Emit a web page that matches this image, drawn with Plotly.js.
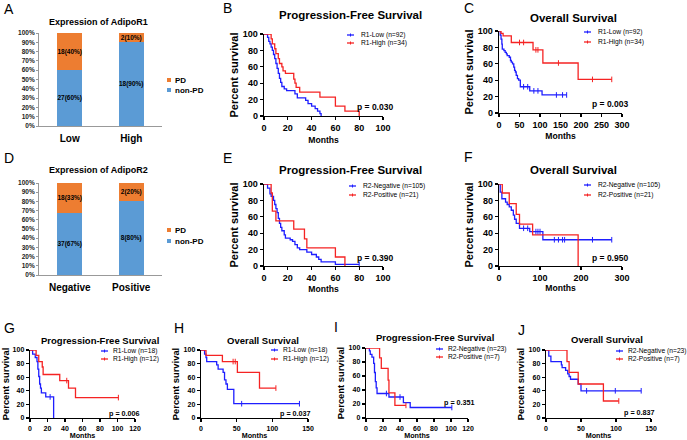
<!DOCTYPE html>
<html><head><meta charset="utf-8">
<script src="https://cdn.plot.ly/plotly-3.0.1.min.js"></script>
<style>html,body{margin:0;padding:0;background:#fff}#chart{width:687px;height:440px}</style>
</head><body><div id="chart"></div>
<script>
// ---------- DATA ----------
const r1Groups = ['Low', 'High'];
const r1NonPD = [60, 90];
const r1PD = [40, 10];
const r1NonPDLabels = ['27(60%)', '18(90%)'];
const r1PDLabels = ['18(40%)', '2(10%)'];

const r2Groups = ['Negative', 'Positive'];
const r2NonPD = [67, 80];
const r2PD = [33, 20];
const r2NonPDLabels = ['37(67%)', '8(80%)'];
const r2PDLabels = ['18(33%)', '2(20%)'];

const pctVals = [0, 10, 20, 30, 40, 50, 60, 70, 80, 90, 100];
const pctText = ['0%', '10%', '20%', '30%', '40%', '50%', '60%', '70%', '80%', '90%', '100%'];

// B: PFS by AdipoR1
const bLowT = [0,3,4,5,6,7,8,9,10,11,12,13,14,15,17,19,26,28,35,37,40,43,45,47,48];
const bLowS = [100,96,91,88,84,80,75,70,64,58,52,46,41,36,33,31,27,22,19,15,12,9,6,3,0];
const bHighT = [0,6,7,9,10,12,13,15,16,18,25,26,27,30,47,60,68,80];
const bHighS = [100,94,88,82,76,70,64,60,55,52,45,40,35,29,23,12,6,0];
// C: OS by AdipoR1
const cLowT = [0,3,5,7,8,12,15,18,20,25,28,30,33,36,38,40,42,45,48,52,75,105,165];
const cLowS = [100,95,90,84,78,76,74,72,70,68,64,62,60,56,52,50,46,42,40,32,27,22,22];
const cLowCens = [60,70,85,95,140,155,165];
const cHighT = [0,5,10,30,83,107,193,275];
const cHighS = [100,97,94,86,77,61,41,41];
const cHighCens = [50,60,90,95,145,228,275];
// E: PFS by AdipoR2
const eNegT = [0,3,5,6,8,9,10,11,12,13,14,15,17,18,22,24,26,28,30,36,40,44,46,48,60,80];
const eNegS = [100,95,88,85,80,75,70,65,58,52,47,43,38,34,32,30,26,22,20,17,14,11,8,5,2,2];
const eNegCens = [80];
const ePosT = [0,6,7,10,25,34,36,60,68];
const ePosS = [100,89,67,55,45,33,22,11,0];
// F: OS by AdipoR2
const fNegT = [0,3,7,16,20,25,30,35,38,42,50,75,107,275];
const fNegS = [100,90,82,78,75,72,68,62,57,52,46,42,32,32];
const fNegCens = [60,70,90,95,100,135,145,155,160,228,275];
const fPosT = [0,8,25,42,50,82,193];
const fPosS = [100,89,76,63,51,38,0];
// G: PFS by AdipoR1 (validation)
const gLowT = [0,3,6,8,9,10,11,12,13,18,27];
const gLowS = [100,94,89,83,72,61,50,44,37,31,0];
const gLowCens = [23];
const gHighT = [0,7,10,14,15,34,44,52,101];
const gHighS = [100,92,83,75,64,55,44,30,30];
const gHighCens = [42,101];
// H: OS by AdipoR1 (validation)
const hLowT = [0,5,7,8,22,24,31,33,35,37,46,138];
const hLowS = [100,94,89,83,78,72,67,56,50,42,21,21];
const hLowCens = [57,138];
const hHighT = [0,7,30,51,82,105];
const hHighS = [100,92,83,67,44,44];
const hHighCens = [45,48,105];
// I: PFS by AdipoR2 (validation)
const iNegT = [0,4,5,7,9,10,11,12,13,27,44,52,101];
const iNegS = [100,96,91,87,78,65,52,43,35,30,22,15,15];
const iNegCens = [24,40,101];
const iPosT = [0,16,18,26,27,34,47];
const iPosS = [100,86,71,54,36,18,18];
const iPosCens = [47];
// J: OS by AdipoR2 (validation)
const jNegT = [0,4,7,22,23,28,31,33,35,46,50,136];
const jNegS = [100,91,83,78,74,70,65,61,57,50,40,40];
const jNegCens = [58,99,136];
const jPosT = [0,30,33,46,82,104];
const jPosS = [100,83,67,50,25,25];
const jPosCens = [104];

// ---------- HELPERS ----------
const W = 687, H = 440;
const FONT = 'Liberation Sans, Arial, sans-serif';
const BLUE = 'rgb(30,30,255)', RED = 'rgb(245,35,35)';
const BARBLUE = '#5B9BD5', BARORANGE = '#ED7D31';
const xd = (a, b) => [a / W, b / W];
const yd = (top, bottom) => [1 - bottom / H, 1 - top / H];
const PX = x => x / W, PY = y => 1 - y / H;

function survAt(T, S, t) { let v = S[0]; for (let i = 0; i < T.length; i++) { if (T[i] <= t) v = S[i]; } return v; }
function km(T, S, ax, color) {
  return {type: 'scatter', mode: 'lines', x: T, y: S, xaxis: 'x' + ax, yaxis: 'y' + ax,
    line: {shape: 'hv', color: color, width: 1.3}, cliponaxis: false, hoverinfo: 'skip'};
}
function cens(T, S, C, ax, color) {
  return {type: 'scatter', mode: 'markers', x: C, y: C.map(t => survAt(T, S, t)), xaxis: 'x' + ax, yaxis: 'y' + ax,
    marker: {symbol: 'line-ns-open', size: 4, color: color, line: {color: color, width: 1}}, cliponaxis: false, hoverinfo: 'skip'};
}
function kmAxis(domain, range, dtick, tsize, title, titleSize, standoff) {
  return {domain: domain, range: range, dtick: dtick, tick0: 0, showgrid: false, zeroline: false,
    showline: true, linecolor: '#000', linewidth: 1.3, ticks: 'outside', ticklen: 3, tickwidth: 1.3, tickcolor: '#000',
    tickfont: {family: FONT, size: tsize, color: '#000', weight: 'bold'}, fixedrange: true, automargin: false,
    title: {text: title, font: {family: FONT, size: titleSize, color: '#000', weight: 'bold'}, standoff: standoff}};
}
function barX(domain, anchor) {
  return {domain: domain, anchor: anchor, type: 'category', range: [-0.5, 1.5], showgrid: false, zeroline: false,
    showline: true, linecolor: '#999', linewidth: 1, ticks: '', automargin: false, ticklabelstandoff: 3,
    tickfont: {family: FONT, size: 10, color: '#000', weight: 'bold'}};
}
function barY(domain, anchor) {
  return {domain: domain, anchor: anchor, range: [0, 100], tickmode: 'array', tickvals: pctVals, ticktext: pctText,
    showgrid: false, zeroline: false, showline: true, linecolor: '#999', linewidth: 1, ticks: 'outside', ticklen: 2,
    tickcolor: '#999', automargin: false, tickfont: {family: FONT, size: 6.5, color: '#222', weight: 'bold'}};
}
function bar(x, y, txt, color, xa, ya) {
  return {type: 'bar', x: x, y: y, text: txt, textposition: 'inside', insidetextanchor: 'middle', constraintext: 'none',
    textfont: {family: FONT, size: 6.5, color: '#000', weight: 'bold'}, marker: {color: color}, width: 0.4,
    xaxis: xa, yaxis: ya, hoverinfo: 'skip', textangle: 0};
}

// ---------- TRACES ----------
const data = [
  bar(r1Groups, r1NonPD, r1NonPDLabels, BARBLUE, 'x', 'y'),
  bar(r1Groups, r1PD, r1PDLabels, BARORANGE, 'x', 'y'),
  bar(r2Groups, r2NonPD, r2NonPDLabels, BARBLUE, 'x4', 'y4'),
  bar(r2Groups, r2PD, r2PDLabels, BARORANGE, 'x4', 'y4'),
  km(bLowT, bLowS, 2, BLUE), km(bHighT, bHighS, 2, RED),
  km(cLowT, cLowS, 3, BLUE), km(cHighT, cHighS, 3, RED),
  cens(cLowT, cLowS, cLowCens, 3, BLUE), cens(cHighT, cHighS, cHighCens, 3, RED),
  km(eNegT, eNegS, 5, BLUE), km(ePosT, ePosS, 5, RED), cens(eNegT, eNegS, eNegCens, 5, BLUE),
  km(fNegT, fNegS, 6, BLUE), km(fPosT, fPosS, 6, RED), cens(fNegT, fNegS, fNegCens, 6, BLUE),
  km(gLowT, gLowS, 7, BLUE), km(gHighT, gHighS, 7, RED),
  cens(gLowT, gLowS, gLowCens, 7, BLUE), cens(gHighT, gHighS, gHighCens, 7, RED),
  km(hLowT, hLowS, 8, BLUE), km(hHighT, hHighS, 8, RED),
  cens(hLowT, hLowS, hLowCens, 8, BLUE), cens(hHighT, hHighS, hHighCens, 8, RED),
  km(iNegT, iNegS, 9, BLUE), km(iPosT, iPosS, 9, RED),
  cens(iNegT, iNegS, iNegCens, 9, BLUE), cens(iPosT, iPosS, iPosCens, 9, RED),
  km(jNegT, jNegS, 10, BLUE), km(jPosT, jPosS, 10, RED),
  cens(jNegT, jNegS, jNegCens, 10, BLUE), cens(jPosT, jPosS, jPosCens, 10, RED)
];

// ---------- ANNOTATIONS ----------
const ann = [];
function txt(x, y, s, size, opts) {
  ann.push(Object.assign({xref: 'paper', yref: 'paper', x: PX(x), y: PY(y), text: s, showarrow: false,
    xanchor: 'left', yanchor: 'middle', font: {family: FONT, size: size, color: '#000'}}, opts || {}));
}
const bold = (size) => ({family: FONT, size: size, color: '#000', weight: 'bold'});
// panel letters
[['A',2,9],['B',221,8],['C',462,8],['D',2,158],['E',221,158],['F',462,157],['G',2,328],['H',172,328],['I',332,327],['J',516,330]]
  .forEach(l => txt(l[1], l[2], l[0], 14));
// titles
txt(98, 22, 'Expression of AdipoR1', 9, {xanchor: 'center', font: bold(9)});
txt(98, 170, 'Expression of AdipoR2', 9, {xanchor: 'center', font: bold(9)});
txt(350, 15, 'Progression-Free Survival', 11.5, {xanchor: 'center', font: bold(11.5)});
txt(573, 18, 'Overall Survival', 11.5, {xanchor: 'center', font: bold(11.5)});
txt(350, 170, 'Progression-Free Survival', 11.5, {xanchor: 'center', font: bold(11.5)});
txt(573, 170, 'Overall Survival', 11.5, {xanchor: 'center', font: bold(11.5)});
txt(100, 340, 'Progression-Free Survival', 9.5, {xanchor: 'center', font: bold(9.5)});
txt(263, 340, 'Overall Survival', 9.5, {xanchor: 'center', font: bold(9.5)});
txt(435, 337, 'Progression-Free Survival', 9.5, {xanchor: 'center', font: bold(9.5)});
txt(607, 339, 'Overall Survival', 9.5, {xanchor: 'center', font: bold(9.5)});
// p values
[[355,107,'p = 0.030',8.5],[590,104,'p = 0.003',8.5],[355,258,'p = 0.390',8.5],[590,258,'p = 0.950',8.5],
 [107,413,'p = 0.006',7.2],[278,413,'p = 0.037',7.2],[442,402,'p = 0.351',7.2],[622,412,'p = 0.837',7.2]]
  .forEach(p => txt(p[0], p[1], p[2], p[3], {font: bold(p[3])}));

// legends
const shapes = [];
function kmLegend(xl, xt, y, label, color) {
  shapes.push({type: 'line', xref: 'paper', yref: 'paper', x0: PX(xl), x1: PX(xl + 7), y0: PY(y), y1: PY(y), line: {color: color, width: 1.3}});
  shapes.push({type: 'line', xref: 'paper', yref: 'paper', x0: PX(xl + 3.5), x1: PX(xl + 3.5), y0: PY(y - 1.5), y1: PY(y + 1.5), line: {color: color, width: 1}});
  txt(xt, y, label, 6.7);
}
kmLegend(347, 359, 35, 'R1-Low (n=92)', BLUE); kmLegend(347, 359, 43, 'R1-High (n=34)', RED);
kmLegend(584, 596, 32, 'R1-Low (n=92)', BLUE); kmLegend(584, 596, 42, 'R1-High (n=34)', RED);
kmLegend(349, 361, 186, 'R2-Negative (n=105)', BLUE); kmLegend(349, 361, 195, 'R2-Positive (n=21)', RED);
kmLegend(584, 596, 185, 'R2-Negative (n=105)', BLUE); kmLegend(584, 596, 195, 'R2-Positive (n=21)', RED);
kmLegend(101, 111, 351, 'R1-Low (n=18)', BLUE); kmLegend(101, 111, 359, 'R1-High (n=12)', RED);
kmLegend(271, 281, 350, 'R1-Low (n=18)', BLUE); kmLegend(271, 281, 359, 'R1-High (n=12)', RED);
kmLegend(436, 446, 349, 'R2-Negative (n=23)', BLUE); kmLegend(436, 446, 357, 'R2-Positive (n=7)', RED);
kmLegend(616, 626, 351, 'R2-Negative (n=23)', BLUE); kmLegend(616, 626, 359, 'R2-Positive (n=7)', RED);
function barLegend(x, y, label, color) {
  shapes.push({type: 'rect', xref: 'paper', yref: 'paper', x0: PX(x - 2), x1: PX(x + 2), y0: PY(y + 2), y1: PY(y - 2), fillcolor: color, line: {width: 0}});
  txt(x + 4, y, label, 8, {font: bold(8)});
}
barLegend(169, 80, 'PD', BARORANGE); barLegend(169, 90, 'non-PD', BARBLUE);
barLegend(169, 230, 'PD', BARORANGE); barLegend(169, 241, 'non-PD', BARBLUE);

// ---------- LAYOUT ----------
const layout = {
  width: W, height: H, margin: {l: 0, r: 0, t: 0, b: 0}, showlegend: false, barmode: 'stack',
  paper_bgcolor: '#fff', plot_bgcolor: 'rgba(0,0,0,0)', font: {family: FONT, color: '#000'},
  xaxis: barX(xd(39, 162), 'y'), yaxis: barY(yd(33, 126), 'x'),
  xaxis4: barX(xd(39, 162), 'y4'), yaxis4: barY(yd(183, 275), 'x4'),
  xaxis2: Object.assign(kmAxis(xd(264, 383), [0, 100], 20, 9, 'Months', 8.6, 5), {anchor: 'y2'}),
  yaxis2: Object.assign(kmAxis(yd(34, 116), [0, 100], 20, 9, 'Percent survival', 11, 2), {anchor: 'x2'}),
  xaxis3: Object.assign(kmAxis(xd(499, 622), [0, 300], 50, 9, 'Months', 8.6, 4), {anchor: 'y3'}),
  yaxis3: Object.assign(kmAxis(yd(31, 113), [0, 100], 20, 9, 'Percent survival', 11, 2), {anchor: 'x3'}),
  xaxis5: Object.assign(kmAxis(xd(264, 383), [0, 100], 20, 9, 'Months', 8.6, 4), {anchor: 'y5'}),
  yaxis5: Object.assign(kmAxis(yd(184, 266), [0, 100], 20, 9, 'Percent survival', 11, 2), {anchor: 'x5'}),
  xaxis6: Object.assign(kmAxis(xd(499, 622), [0, 300], 100, 9, 'Months', 8.6, 3), {anchor: 'y6'}),
  yaxis6: Object.assign(kmAxis(yd(184, 266), [0, 100], 20, 9, 'Percent survival', 11, 2), {anchor: 'x6'}),
  xaxis7: Object.assign(kmAxis(xd(30, 135), [0, 120], 20, 7, 'Months', 7.2, 0), {anchor: 'y7'}),
  yaxis7: Object.assign(kmAxis(yd(350, 418), [0, 100], 20, 7, 'Percent survival', 9.4, 2), {anchor: 'x7'}),
  xaxis8: Object.assign(kmAxis(xd(201, 308), [0, 150], 50, 7, 'Months', 7.2, 0), {anchor: 'y8'}),
  yaxis8: Object.assign(kmAxis(yd(350, 418), [0, 100], 20, 7, 'Percent survival', 9.4, 2), {anchor: 'x8'}),
  xaxis9: Object.assign(kmAxis(xd(366, 468), [0, 120], 20, 7, 'Months', 7.2, 2), {anchor: 'y9'}),
  yaxis9: Object.assign(kmAxis(yd(348, 418), [0, 100], 20, 7, 'Percent survival', 9.4, 2), {anchor: 'x9'}),
  xaxis10: Object.assign(kmAxis(xd(546, 651), [0, 150], 50, 7, 'Months', 7.2, 2), {anchor: 'y10'}),
  yaxis10: Object.assign(kmAxis(yd(350, 418), [0, 100], 20, 7, 'Percent survival', 9.4, 2), {anchor: 'x10'}),
  annotations: ann, shapes: shapes
};
Plotly.newPlot('chart', data, layout, {staticPlot: true, displayModeBar: false});
</script>
</body></html>
